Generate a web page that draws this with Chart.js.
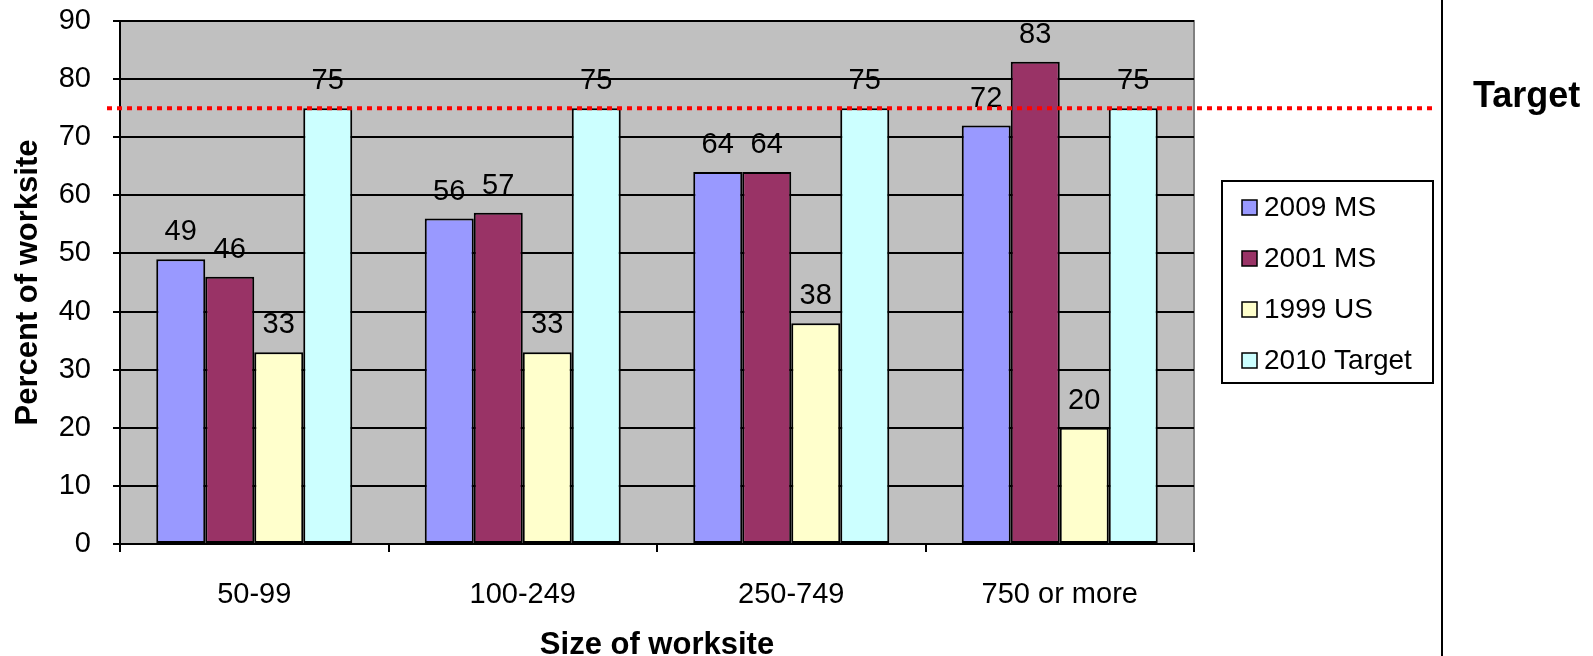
<!DOCTYPE html>
<html>
<head>
<meta charset="utf-8">
<script src="https://cdn.jsdelivr.net/npm/chart.js@4"></script>
<style>
html,body{margin:0;padding:0;background:#fff;}
#wrap{width:1593px;height:656px;position:relative;}
</style>
</head>
<body>
<div id="wrap"><canvas id="c" width="1593" height="656"></canvas></div>
<script>
const categories = ['50-99', '100-249', '250-749', '750 or more'];
const seriesNames = ['2009 MS', '2001 MS', '1999 US', '2010 Target'];
const ms2009 = [49, 56, 64, 72];
const ms2001 = [46, 57, 64, 83];
const us1999 = [33, 33, 38, 20];
const target2010 = [75, 75, 75, 75];
const targetLevel = 75;
const targetLabel = 'Target';
const yMin = 0, yMax = 90, yStep = 10;

const colors = ['#9999FF', '#993366', '#FFFFCC', '#CCFFFF'];
const FONT = "'Liberation Sans', Arial, sans-serif";
const seriesValues = [ms2009, ms2001, us1999, target2010];

const bgPlugin = {
  id: 'bg',
  beforeDraw(chart) {
    const {ctx, chartArea: a} = chart;
    ctx.save();
    ctx.fillStyle = '#C0C0C0';
    ctx.fillRect(a.left, a.top, a.right - a.left, a.bottom - a.top);
    ctx.strokeStyle = '#808080';
    ctx.lineWidth = 2;
    ctx.beginPath();
    ctx.moveTo(a.left, a.top);
    ctx.lineTo(a.right, a.top);
    ctx.lineTo(a.right, a.bottom);
    ctx.stroke();
    ctx.restore();
  }
};

const overlayPlugin = {
  id: 'overlay',
  afterDatasetsDraw(chart) {
    const {ctx, chartArea: a} = chart;
    const y = chart.scales.y;
    ctx.save();
    // data labels
    ctx.fillStyle = '#000';
    ctx.font = '29px ' + FONT;
    ctx.textAlign = 'center';
    ctx.textBaseline = 'middle';
    chart.data.datasets.forEach((ds, di) => {
      chart.getDatasetMeta(di).data.forEach((bar, i) => {
        ctx.fillText(String(ds.data[i]), bar.x, bar.y - 27);
      });
    });
    // target line
    const ty = y.getPixelForValue(targetLevel);
    ctx.strokeStyle = '#FF0000';
    ctx.lineWidth = 4;
    ctx.setLineDash([5, 5]);
    ctx.beginPath();
    ctx.moveTo(a.left - 13, ty);
    ctx.lineTo(1434, ty);
    ctx.stroke();
    ctx.setLineDash([]);
    // vertical divider
    ctx.strokeStyle = '#000';
    ctx.lineWidth = 2;
    ctx.beginPath();
    ctx.moveTo(1442, 0);
    ctx.lineTo(1442, chart.height);
    ctx.stroke();
    // Target text
    ctx.font = 'bold 36px ' + FONT;
    ctx.textAlign = 'left';
    ctx.textBaseline = 'alphabetic';
    ctx.fillText(targetLabel, 1473, ty - 1);
    // legend
    ctx.fillStyle = '#fff';
    ctx.fillRect(1222, 181, 211, 202);
    ctx.strokeStyle = '#000';
    ctx.lineWidth = 2;
    ctx.strokeRect(1222, 181, 211, 202);
    ctx.font = '28px ' + FONT;
    ctx.textBaseline = 'middle';
    chart.data.datasets.forEach((ds, di) => {
      const cy = 207 + di * 51;
      ctx.fillStyle = ds.backgroundColor;
      ctx.fillRect(1242, cy - 7, 15, 15);
      ctx.strokeStyle = '#000';
      ctx.lineWidth = 1.5;
      ctx.strokeRect(1242, cy - 7, 15, 15);
      ctx.fillStyle = '#000';
      ctx.fillText(ds.label, 1264, cy + 1);
    });
    ctx.restore();
  }
};

new Chart(document.getElementById('c'), {
  type: 'bar',
  data: {
    labels: categories,
    datasets: seriesValues.map((vals, i) => ({
      label: seriesNames[i],
      data: vals,
      backgroundColor: colors[i],
      borderColor: '#000',
      borderWidth: 2,
      borderSkipped: false,
      categoryPercentage: 0.73,
      barPercentage: 1.0
    }))
  },
  options: {
    responsive: false,
    animation: false,
    devicePixelRatio: 1,
    layout: {padding: {left: 0, right: 399, top: 21, bottom: 0}},
    plugins: {legend: {display: false}, tooltip: {enabled: false}},
    scales: {
      x: {
        afterFit(a) { a.height = 112; a.paddingLeft = 0; a.paddingRight = 0; },
        grid: {display: true, drawOnChartArea: false, drawTicks: true, tickLength: 8, color: '#000', lineWidth: 2, offset: true},
        border: {display: true, color: '#000', width: 2},
        ticks: {color: '#000', font: {family: FONT, size: 29}, padding: 26},
        title: {display: true, text: 'Size of worksite', color: '#000', font: {family: FONT, size: 31, weight: 'bold'}, padding: {top: 0, bottom: -8}}
      },
      y: {
        min: yMin, max: yMax,
        afterFit(a) { a.width = 120; a.paddingTop = 0; a.paddingBottom = 0; },
        grid: {color: '#000', lineWidth: 2, tickLength: 7, drawTicks: true},
        border: {display: true, color: '#000', width: 2},
        ticks: {stepSize: yStep, color: '#000', font: {family: FONT, size: 29}, padding: 22},
        title: {display: true, text: 'Percent of worksite', color: '#000', font: {family: FONT, size: 31, weight: 'bold'}, padding: {top: 10, bottom: 0}}
      }
    }
  },
  plugins: [bgPlugin, overlayPlugin]
});
</script>
</body>
</html>
